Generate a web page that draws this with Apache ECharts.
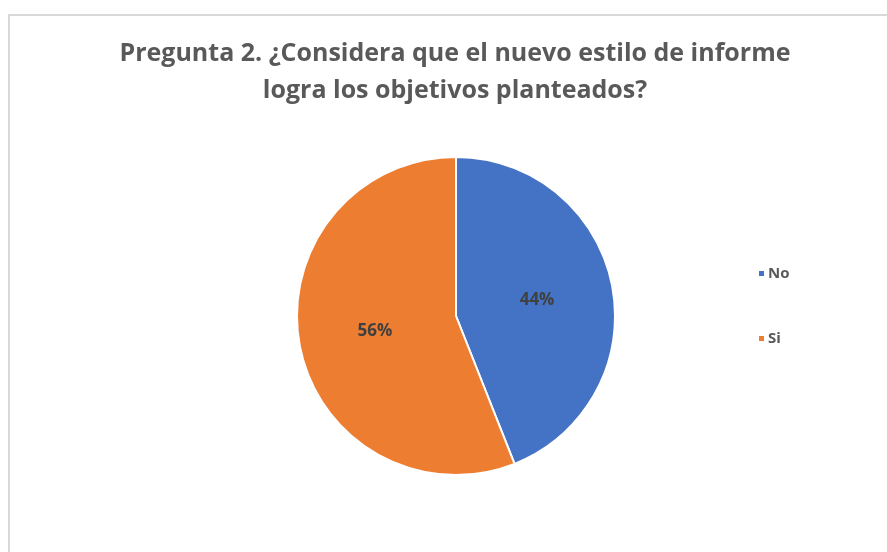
<!DOCTYPE html>
<html>
<head>
<meta charset="utf-8">
<script src="https://cdn.jsdelivr.net/npm/echarts@6/dist/echarts.min.js"></script>
<style>
  html, body { margin: 0; padding: 0; background: #ffffff; }
  #chart { width: 887px; height: 552px; }
</style>
</head>
<body>
<div id="chart"></div>
<script>
// Survey answers for question 2
const categories = ['No', 'Si'];
const shares = [44, 56];
const colors = ['#4472c4', '#ed7d31'];

const chart = echarts.init(document.getElementById('chart'));

chart.setOption({
  backgroundColor: '#ffffff',
  animation: false,
  title: {
    text: 'Pregunta 2. ¿Considera que el nuevo estilo de informe\nlogra los objetivos planteados?',
    left: 450,
    textAlign: 'center',
    top: 30,
    textStyle: {
      fontFamily: 'Open Sans',
      fontWeight: 'bold',
      fontSize: 25,
      lineHeight: 37,
      color: '#595959'
    }
  },
  graphic: [{
    type: 'rect',
    shape: { x: 9, y: 15, width: 900, height: 560 },
    style: { fill: 'none', stroke: '#d9d9d9', lineWidth: 2 },
    silent: true
  }],
  legend: {
    orient: 'vertical',
    left: 752,
    top: 261,
    itemWidth: 7,
    itemHeight: 7,
    itemGap: 50,
    icon: 'rect',
    data: categories,
    textStyle: {
      fontFamily: 'Open Sans',
      fontSize: 15,
      fontWeight: 'bold',
      color: '#595959',
      padding: [0, 0, 0, -2]
    }
  },
  series: [{
    type: 'pie',
    center: [456, 316],
    radius: [0, 159],
    startAngle: 90,
    clockwise: true,
    label: {
      show: true,
      position: 'inside',
      formatter: '{c}%',
      fontFamily: 'Open Sans',
      fontSize: 17,
      fontWeight: 'bold',
      color: '#404040'
    },
    labelLine: { show: false },
    itemStyle: { borderColor: '#ffffff', borderWidth: 2 },
    emphasis: { disabled: true },
    data: categories.map((name, i) => ({
      name: name,
      value: shares[i],
      itemStyle: { color: colors[i] }
    }))
  }]
});
</script>
</body>
</html>
